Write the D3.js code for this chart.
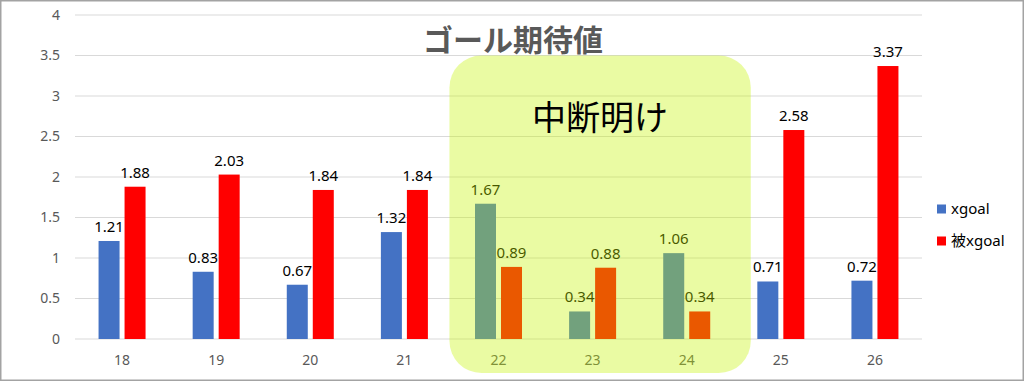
<!DOCTYPE html>
<html>
<head>
<meta charset="utf-8">
<script src="https://cdn.jsdelivr.net/npm/d3@7"></script>
<style>
  body { margin: 0; background: #fff; }
  svg { display: block; font-family: "Noto Sans", "Noto Sans CJK JP", sans-serif; }
</style>
</head>
<body>
<svg id="chart" width="1024" height="381"></svg>
<script>
// chart data
const rounds = ["18", "19", "20", "21", "22", "23", "24", "25", "26"]
const xgoal = [1.21, 0.83, 0.67, 1.32, 1.67, 0.34, 1.06, 0.71, 0.72]
const xgoalAgainst = [1.88, 2.03, 1.84, 1.84, 0.89, 0.88, 0.34, 2.58, 3.37]
const yTicks = [0, 0.5, 1, 1.5, 2, 2.5, 3, 3.5, 4]
const seriesNames = ["xgoal", "被xgoal"]
const seriesColors = ["#4472C4", "#FF0000"]
const breakRounds = ["22", "23", "24"]

const svg = d3.select("#chart")
const width = 1024, height = 381
const margin = {left: 75, right: 102, top: 15, bottom: 42}

// outer frame
svg.append("rect")
    .attr("x", 0.75).attr("y", 0.75)
    .attr("width", width - 1.5).attr("height", height - 1.5)
    .attr("fill", "#fff").attr("stroke", "#a3a3a3").attr("stroke-width", 1.5)

const x = d3.scaleBand()
    .domain(rounds)
    .range([margin.left, width - margin.right])

const y = d3.scaleLinear()
    .domain([0, 4])
    .range([height - margin.bottom, margin.top])

// gridlines
svg.append("g")
    .selectAll("line")
    .data(yTicks)
    .join("line")
        .attr("x1", margin.left).attr("x2", width - margin.right)
        .attr("y1", d => y(d)).attr("y2", d => y(d))
        .attr("stroke", "#d9d9d9").attr("stroke-width", 1)

// y labels
svg.append("g")
    .selectAll("text")
    .data(yTicks)
    .join("text")
        .attr("x", 60).attr("y", d => y(d))
        .attr("dy", "0.35em")
        .attr("text-anchor", "end")
        .attr("font-size", 14).attr("fill", "#595959")
        .text(d => d)

// x labels
svg.append("g")
    .selectAll("text")
    .data(rounds)
    .join("text")
        .attr("x", d => x(d) + x.bandwidth() / 2)
        .attr("y", y(0) + 21)
        .attr("dy", "0.35em")
        .attr("text-anchor", "middle")
        .attr("font-size", 14).attr("fill", "#595959")
        .text(d => d)

// bars
const barW = 21, gap = 5
const series = [xgoal, xgoalAgainst]
series.forEach((vals, i) => {
    const off = i === 0 ? -gap / 2 - barW : gap / 2
    const g = svg.append("g")
    g.selectAll("rect")
        .data(rounds)
        .join("rect")
            .attr("x", (d) => x(d) + x.bandwidth() / 2 + off)
            .attr("y", (d, j) => y(vals[j]))
            .attr("width", barW)
            .attr("height", (d, j) => y(0) - y(vals[j]))
            .attr("fill", seriesColors[i])
    g.selectAll("text")
        .data(rounds)
        .join("text")
            .attr("x", (d) => x(d) + x.bandwidth() / 2 + off + barW / 2)
            .attr("y", (d, j) => y(vals[j]) - 9)
            .attr("text-anchor", "middle")
            .attr("font-size", 15).attr("fill", "#000")
            .text((d, j) => vals[j].toFixed(2))
})

// title
svg.append("text")
    .attr("x", 513).attr("y", 51)
    .attr("text-anchor", "middle")
    .attr("font-size", 30).attr("font-weight", "bold")
    .attr("fill", "#595959")
    .text("ゴール期待値")

// highlight box for the restart rounds
const bx0 = x(breakRounds[0]) - 2
const bx1 = x(breakRounds[breakRounds.length - 1]) + x.bandwidth() + 17
svg.append("rect")
    .attr("x", bx0).attr("y", y(3.5))
    .attr("width", bx1 - bx0).attr("height", 373 - y(3.5))
    .attr("rx", 32).attr("ry", 32)
    .attr("fill", "rgb(198,243,0)").attr("fill-opacity", 0.36)

svg.append("text")
    .attr("x", (bx0 + bx1) / 2).attr("y", 118)
    .attr("dy", "0.35em")
    .attr("text-anchor", "middle")
    .attr("font-size", 34).attr("fill", "#000")
    .text("中断明け")

// legend
const legend = svg.append("g")
    .selectAll("g")
    .data(seriesNames)
    .join("g")
        .attr("transform", (d, i) => `translate(937, ${209 + i * 32})`)
legend.append("rect")
    .attr("x", 0).attr("y", -4.5)
    .attr("width", 9).attr("height", 9)
    .attr("fill", (d, i) => seriesColors[i])
legend.append("text")
    .attr("x", 14).attr("y", 0)
    .attr("dy", "0.35em")
    .attr("font-size", 15).attr("fill", "#000")
    .text(d => d)
</script>
</body>
</html>
